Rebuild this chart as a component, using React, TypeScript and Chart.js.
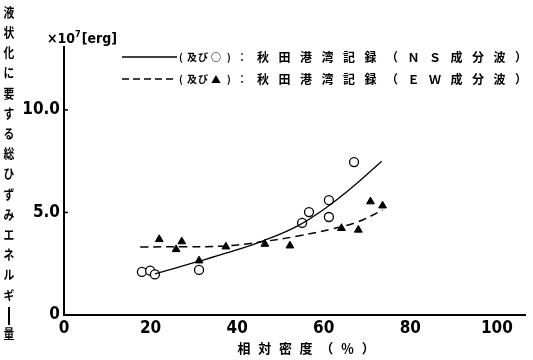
import React, { useEffect, useRef } from "react";
import { Chart, registerables } from "chart.js";

Chart.register(...registerables);

// ---- data ----
const nsX = [18, 19.9, 21, 31.2, 55, 56.6, 61.2, 61.2, 67];
const nsY = [2.1, 2.16, 1.98, 2.2, 4.49, 5.02, 4.78, 5.6, 7.46];

const ewX = [22, 25.9, 27.2, 31.2, 37.4, 46.4, 52.2, 64.1, 68, 70.8, 73.6];
const ewY = [3.69, 3.2, 3.58, 2.65, 3.33, 3.46, 3.38, 4.23, 4.15, 5.53, 5.33];

// fitted curves
const nsFitX = [21, 30, 38, 46, 54, 61, 67, 73.4];
const nsFitY = [2.0, 2.55, 3.05, 3.62, 4.35, 5.3, 6.3, 7.5];
const ewFitX = [17.6, 28, 37.4, 46, 54, 62, 68, 73.6];
const ewFitY = [3.32, 3.33, 3.37, 3.58, 3.85, 4.2, 4.55, 5.12];

const xTicks = [0, 20, 40, 60, 80, 100];
const yTicks = [0, 5, 10];

const yTitle = "液状化に要する総ひずみエネルギー量";
const xTitle = "相対密度（％）";
const legendPrefixNS = "(及び○)：";
const legendPrefixEW = "(及び▲)：";
const legendBodyNS = "秋田港湾記録（ＮＳ成分波）";
const legendBodyEW = "秋田港湾記録（ＥＷ成分波）";

const toPts = (xs: number[], ys: number[]) => xs.map((x, i) => ({ x, y: ys[i] }));

const CJK = '"Noto Sans CJK JP", sans-serif';

const decorPlugin = {
  id: "decor",
  afterDraw(chart: any) {
    const ctx = chart.ctx as CanvasRenderingContext2D;
    const ys = chart.scales.y;
    const area = chart.chartArea;
    ctx.save();
    ctx.fillStyle = "#000";
    ctx.strokeStyle = "#000";

    // inner tick marks on the y axis
    ctx.lineWidth = 1.5;
    yTicks.forEach((v) => {
      if (v === 0) return;
      const py = ys.getPixelForValue(v);
      ctx.beginPath();
      ctx.moveTo(area.left, py);
      ctx.lineTo(area.left + 4, py);
      ctx.stroke();
    });

    // vertical y-axis title, upright characters
    ctx.font = `bold 12px ${CJK}`;
    ctx.textAlign = "center";
    ctx.textBaseline = "middle";
    let cy = 12;
    Array.from(yTitle).forEach((ch) => {
      if (ch === "ー") {
        ctx.lineWidth = 2;
        ctx.beginPath();
        ctx.moveTo(9, cy - 8);
        ctx.lineTo(9, cy + 10);
        ctx.stroke();
        cy += 18;
      } else {
        ctx.save();
        ctx.translate(9, cy);
        ctx.scale(0.9, 1.05);
        ctx.fillText(ch, 0, 0);
        ctx.restore();
        cy += 20.2;
      }
    });

    // unit label
    ctx.textAlign = "left";
    ctx.textBaseline = "alphabetic";
    ctx.font = 'bold 14px "DejaVu Sans Condensed", sans-serif';
    let ux = 47;
    const uy = 43;
    ctx.fillText("×10", ux, uy);
    ux += ctx.measureText("×10").width;
    ctx.font = 'bold 9px "DejaVu Sans Condensed", sans-serif';
    ctx.fillText("7", ux, uy - 6);
    ux += ctx.measureText("7").width + 1;
    ctx.font = 'bold 14px "DejaVu Sans Condensed", sans-serif';
    ctx.fillText("[erg]", ux, uy);

    // legend
    const legendRow = (yy: number, dashed: boolean, prefix: string, body: string) => {
      ctx.lineWidth = 1.5;
      ctx.setLineDash(dashed ? [7, 4] : []);
      ctx.beginPath();
      ctx.moveTo(122, yy);
      ctx.lineTo(177, yy);
      ctx.stroke();
      ctx.setLineDash([]);
      ctx.textBaseline = "middle";
      ctx.textAlign = "center";
      ctx.font = `bold 10px ${CJK}`;
      const preX = [181, 192, 203, 216, 229, 242];
      Array.from(prefix).forEach((ch, i) => {
        ctx.fillText(ch, preX[i] ?? 242, yy);
      });
      ctx.font = `bold 12px ${CJK}`;
      Array.from(body).forEach((ch, i) => {
        ctx.fillText(ch, 263 + i * 21.5, yy);
      });
    };
    legendRow(57, false, legendPrefixNS, legendBodyNS);
    legendRow(79, true, legendPrefixEW, legendBodyEW);

    // x-axis title
    ctx.font = `bold 13px ${CJK}`;
    ctx.textAlign = "center";
    ctx.textBaseline = "middle";
    Array.from(xTitle).forEach((ch, i) => {
      ctx.fillText(ch, 244 + i * 20.7, 348);
    });

    ctx.restore();
  },
};

export default function App() {
  const ref = useRef<HTMLCanvasElement | null>(null);

  useEffect(() => {
    if (!ref.current) return;
    const chart = new Chart(ref.current, {
      type: "scatter",
      data: {
        datasets: [
          {
            type: "line",
            label: "NS fit",
            data: toPts(nsFitX, nsFitY),
            borderColor: "#000",
            borderWidth: 1.3,
            pointRadius: 0,
            tension: 0.4,
            fill: false,
          } as any,
          {
            type: "line",
            label: "EW fit",
            data: toPts(ewFitX, ewFitY),
            borderColor: "#000",
            borderWidth: 1.5,
            borderDash: [8, 5],
            pointRadius: 0,
            tension: 0.4,
            fill: false,
          } as any,
          {
            label: "NS",
            data: toPts(nsX, nsY),
            pointStyle: "circle",
            pointRadius: 4.5,
            backgroundColor: "#fff",
            borderColor: "#000",
            borderWidth: 1.3,
          },
          {
            label: "EW",
            data: toPts(ewX, ewY),
            pointStyle: "triangle",
            pointRadius: 4.5,
            backgroundColor: "#000",
            borderColor: "#000",
            borderWidth: 1,
          },
        ],
      },
      options: {
        animation: false,
        responsive: false,
        maintainAspectRatio: false,
        layout: { padding: { left: 0, right: 8, top: 47, bottom: 0 } },
        plugins: {
          legend: { display: false },
          tooltip: { enabled: false },
          title: { display: false },
        },
        scales: {
          x: {
            type: "linear",
            min: 0,
            max: 106.5,
            afterBuildTicks: (s: any) => {
              s.ticks = xTicks.map((v) => ({ value: v }));
            },
            afterFit: (s: any) => {
              s.height = 45;
            },
            grid: { display: false, drawTicks: false },
            border: { display: true, color: "#000", width: 2 },
            ticks: {
              color: "#000",
              padding: 3,
              maxRotation: 0,
              font: { family: '"DejaVu Sans Condensed", sans-serif', weight: "bold", size: 17 },
              callback: (v: any) => String(v),
            },
          },
          y: {
            type: "linear",
            min: 0,
            max: 13.07,
            afterBuildTicks: (s: any) => {
              s.ticks = yTicks.map((v) => ({ value: v }));
            },
            afterFit: (s: any) => {
              s.width = 64;
            },
            grid: { display: false, drawTicks: false },
            border: { display: true, color: "#000", width: 2 },
            ticks: {
              color: "#000",
              padding: 4,
              font: { family: '"DejaVu Sans Condensed", sans-serif', weight: "bold", size: 17 },
              callback: (v: any) => (v === 0 ? "0" : Number(v).toFixed(1)),
            },
          },
        },
      },
      plugins: [decorPlugin],
    } as any);
    return () => chart.destroy();
  }, []);

  return (
    <div style={{ position: "fixed", left: 0, top: 0, width: 533, height: 360, background: "#fff" }}>
      <canvas ref={ref} width={533} height={360} style={{ width: 533, height: 360 }} />
    </div>
  );
}
